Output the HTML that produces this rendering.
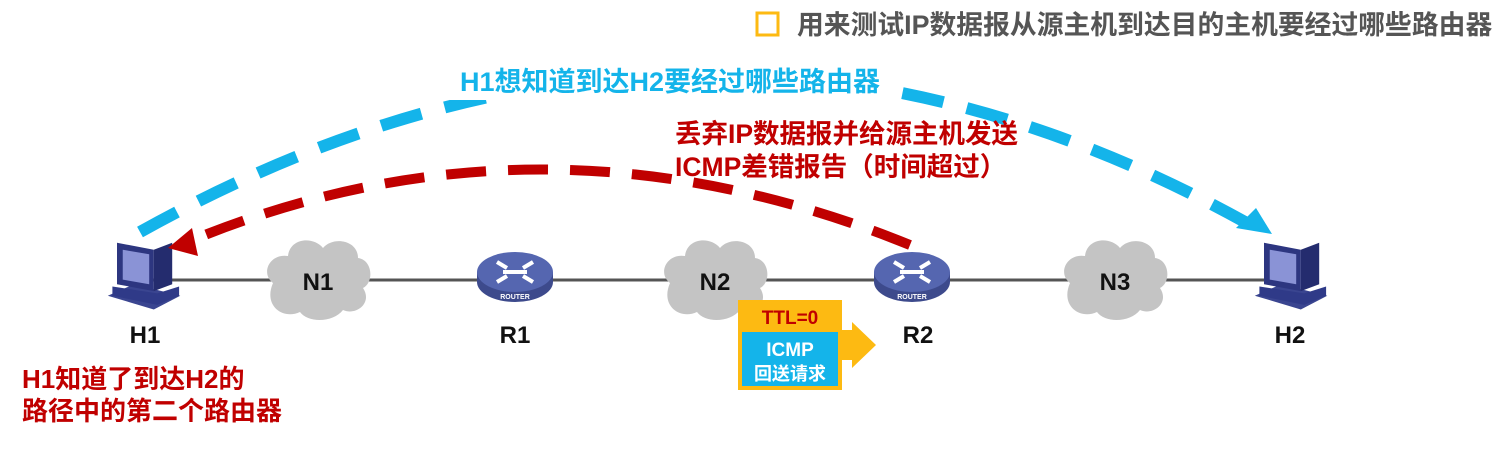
<!DOCTYPE html>
<html><head><meta charset="utf-8"><style>
body{margin:0;width:1500px;height:462px;background:#fff;overflow:hidden;font-family:"Liberation Sans","Noto Sans CJK SC",sans-serif;}
svg{position:absolute;left:0;top:0}
text{font-family:"Liberation Sans","Noto Sans CJK SC",sans-serif;font-weight:bold}
</style></head><body>
<svg width="1500" height="462" viewBox="0 0 1500 462">
<defs>
<g id="cloud"><path d="M-45,5 C-58,-5 -48,-25 -30,-22 C-28,-40 -5,-42 5,-30 C15,-42 40,-38 40,-20 C55,-18 56,5 45,10 C55,25 38,38 25,32 C15,45 -10,45 -18,34 C-35,42 -55,28 -45,5 Z" fill="#c4c4c4"/></g>
<g id="router"><ellipse cx="0" cy="10" rx="38" ry="20" fill="#3d4a8c"/><rect x="-38" y="0" width="76" height="10" fill="#3d4a8c"/><ellipse cx="0" cy="0" rx="38" ry="20" fill="#5566b0"/>
<path d="M-18,-10 L-8,-4 M18,-10 L8,-4 M-18,10 L-8,4 M18,10 L8,4 M-12,0 L12,0" stroke="#fff" stroke-width="4"/><text x="0" y="27" font-size="7" fill="#fff" text-anchor="middle">ROUTER</text></g>
<g id="pc" transform="scale(1.15)"><path d="M-28,18 L12,30 L35,18 L-5,8 Z" fill="#3a4590"/><path d="M-20,-28 L12,-22 L12,14 L-20,8 Z" fill="#2d3680"/><path d="M-15,-22 L8,-18 L8,8 L-15,4 Z" fill="#8a93d6"/><path d="M12,-22 L28,-28 L28,8 L12,14 Z" fill="#242c6e"/><path d="M-24,10 L15,16 L34,10 L34,18 L15,26 L-24,18Z" fill="#2f3a88"/></g>
</defs>
<line x1="145" y1="280" x2="1290" y2="280" stroke="#555" stroke-width="3"/>
<use href="#cloud" x="318" y="278"/><use href="#cloud" x="715" y="278"/><use href="#cloud" x="1115" y="278"/>
<text x="318" y="290" font-size="24" text-anchor="middle" fill="#111">N1</text>
<text x="715" y="290" font-size="24" text-anchor="middle" fill="#111">N2</text>
<text x="1115" y="290" font-size="24" text-anchor="middle" fill="#111">N3</text>
<use href="#router" x="515" y="272"/><use href="#router" x="912" y="272"/>
<use href="#pc" x="140" y="275"/><use href="#pc" x="1287" y="275"/>
<text x="145" y="343" font-size="24" text-anchor="middle" fill="#111">H1</text>
<text x="515" y="343" font-size="24" text-anchor="middle" fill="#111">R1</text>
<text x="918" y="343" font-size="24" text-anchor="middle" fill="#111">R2</text>
<text x="1290" y="343" font-size="24" text-anchor="middle" fill="#111">H2</text>
<path d="M140,232 Q700,-80 1245,222" fill="none" stroke="#14b4ea" stroke-width="12" stroke-dasharray="42,24"/>
<path d="M1272,234 L1236,228 L1256,208 Z" fill="#14b4ea"/>
<rect x="450" y="62" width="440" height="38" fill="#fff"/>
<text x="670" y="91" font-size="27" text-anchor="middle" fill="#14b4ea">H1想知道到达H2要经过哪些路由器</text>
<path d="M910,245 Q540,95 185,243" fill="none" stroke="#c00000" stroke-width="10" stroke-dasharray="40,22"/>
<path d="M168,248 L192,228 L198,256 Z" fill="#c00000"/>
<text x="675" y="143" font-size="26.5" fill="#c00000">丢弃IP数据报并给源主机发送</text>
<text x="675" y="176" font-size="26.5" fill="#c00000">ICMP差错报告（时间超过）</text>
<text x="22" y="388" font-size="26" fill="#c00000">H1知道了到达H2的</text>
<text x="22" y="420" font-size="26" fill="#c00000">路径中的第二个路由器</text>
<path d="M838,330 L852,330 L852,322 L876,345 L852,368 L852,360 L838,360 Z" fill="#fdba12"/>
<rect x="738" y="300" width="104" height="90" fill="#fdba12"/>
<rect x="742" y="332" width="96" height="54" fill="#14b4ea"/>
<text x="790" y="324" font-size="19" text-anchor="middle" fill="#c00000">TTL=0</text>
<text x="790" y="356" font-size="19" text-anchor="middle" fill="#fff" font-weight="normal">ICMP</text>
<text x="790" y="380" font-size="18" text-anchor="middle" fill="#fff" font-weight="normal">回送请求</text>
<rect x="757" y="13" width="21" height="22" fill="none" stroke="#fdba12" stroke-width="3"/>
<text x="797" y="34" font-size="26.8" fill="#555">用来测试IP数据报从源主机到达目的主机要经过哪些路由器</text>
</svg>
</body></html>
